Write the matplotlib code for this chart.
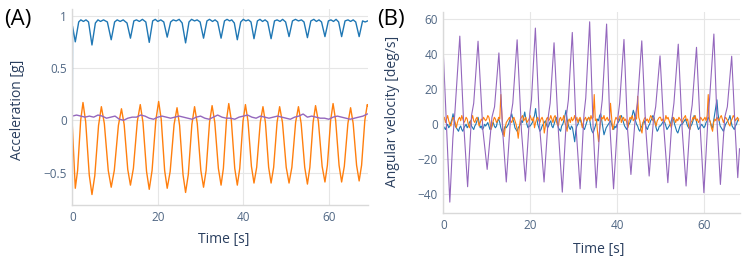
import numpy as np
import matplotlib
matplotlib.use("Agg")
import matplotlib.pyplot as plt

plt.rcParams['font.family'] = ['Open Sans', 'DejaVu Sans']

# (A) acceleration [g]
acc_blue_t = [0, 0.05, 0.7, 1.5, 2.0, 2.6, 3.2, 3.8, 4.6, 5.4, 6.0, 6.6, 7.3, 8.2,
              9.1, 9.9, 10.5, 11.2, 11.9, 12.8, 13.6, 14.4, 15.0, 15.7, 16.4, 17.2,
              18.0, 18.8, 19.4, 20.0, 20.7, 21.4, 22.2, 23.0, 23.6, 24.3, 25.0, 25.7,
              26.5, 27.3, 27.9, 28.6, 29.2, 29.9, 30.7, 31.5, 32.1, 32.8, 33.4, 34.0,
              34.8, 35.6, 36.2, 36.8, 37.3, 37.9, 38.6, 39.4, 40.0, 40.6, 41.2, 41.8,
              42.5, 43.3, 43.9, 44.5, 45.1, 45.7, 46.5, 47.3, 47.9, 48.6, 49.2, 49.9,
              50.7, 51.5, 52.2, 52.9, 53.6, 54.2, 55.0, 55.8, 56.5, 57.1, 57.7, 58.3,
              59.1, 59.9, 60.5, 61.1, 61.7, 62.3, 63.0, 63.8, 64.5, 65.1, 65.7, 66.3,
              67.1, 67.9, 68.5, 69.1]
acc_blue = [0.03, 0.90, 0.75, 0.94, 0.96, 0.945, 0.96, 0.94, 0.72, 0.93, 0.96, 0.945, 0.96, 0.94,
            0.77, 0.94, 0.96, 0.945, 0.96, 0.93, 0.785, 0.95, 0.96, 0.945, 0.965, 0.94,
            0.745, 0.95, 0.965, 0.945, 0.96, 0.94, 0.795, 0.94, 0.96, 0.95, 0.965, 0.93,
            0.74, 0.94, 0.965, 0.95, 0.96, 0.94, 0.785, 0.95, 0.965, 0.945, 0.96, 0.94,
            0.785, 0.95, 0.965, 0.95, 0.96, 0.93, 0.77, 0.94, 0.965, 0.95, 0.96, 0.94,
            0.78, 0.95, 0.965, 0.945, 0.96, 0.94, 0.78, 0.95, 0.96, 0.945, 0.965, 0.94,
            0.80, 0.95, 0.965, 0.95, 0.96, 0.94, 0.79, 0.95, 0.965, 0.945, 0.96, 0.94,
            0.80, 0.95, 0.96, 0.945, 0.965, 0.94, 0.80, 0.95, 0.96, 0.945, 0.96, 0.94,
            0.80, 0.95, 0.94, 0.95]

acc_orange_t = [0, 0.7, 1.24, 1.96, 2.5, 3.13, 3.97, 4.6, 5.26, 6.14, 6.8, 7.49, 8.41,
                9.1, 9.82, 10.78, 11.5, 12.13, 12.97, 13.6, 14.29, 15.21, 15.9, 16.53, 17.37,
                18.0, 18.66, 19.54, 20.2, 20.8, 21.6, 22.2, 22.89, 23.81, 24.5, 25.1, 25.9,
                26.5, 27.13, 27.97, 28.6, 29.23, 30.07, 30.7, 31.3, 32.1, 32.7, 33.33, 34.17,
                34.8, 35.34, 36.06, 36.6, 37.2, 38.0, 38.6, 39.17, 39.93, 40.5, 41.1, 41.9,
                42.5, 43.13, 43.97, 44.6, 45.17, 45.93, 46.5, 47.1, 47.9, 48.5, 49.16, 50.04,
                50.7, 51.36, 52.24, 52.9, 53.53, 54.37, 55.0, 55.57, 56.33, 56.9, 57.56, 58.44,
                59.1, 59.67, 60.43, 61.0, 61.6, 62.4, 63.0, 63.63, 64.47, 65.1, 65.7, 66.5,
                67.1, 67.67, 68.43, 69.0, 69.1]
acc_orange = [-0.05, -0.65, -0.48, 0.0, 0.17, -0.015, -0.525, -0.71, -0.53, -0.05, 0.13, -0.03, -0.48,
              -0.64, -0.48, -0.05, 0.11, -0.04, -0.47, -0.62, -0.46, -0.01, 0.15, -0.02, -0.49,
              -0.66, -0.48, 0.0, 0.18, 0.01, -0.48, -0.65, -0.49, -0.04, 0.12, -0.05, -0.52,
              -0.69, -0.52, -0.04, 0.13, -0.03, -0.48, -0.64, -0.48, -0.02, 0.14, -0.02, -0.46,
              -0.62, -0.46, 0.0, 0.16, 0.0, -0.46, -0.62, -0.46, -0.01, 0.15, -0.01, -0.44,
              -0.60, -0.45, -0.02, 0.13, -0.02, -0.45, -0.60, -0.45, -0.02, 0.13, -0.02, -0.45,
              -0.60, -0.45, -0.02, 0.13, -0.03, -0.45, -0.61, -0.45, -0.02, 0.14, -0.01, -0.44,
              -0.59, -0.43, 0.0, 0.16, 0.0, -0.43, -0.59, -0.44, -0.03, 0.12, -0.03, -0.43,
              -0.58, -0.43, 0.0, 0.15, 0.14]

acc_purple_t = list(range(0, 70))
acc_purple = [0.04, 0.05, 0.04, 0.03, 0.04, 0.03, 0.05, 0.04, 0.02, 0.03,
              0.04, 0.01, 0.00, 0.02, 0.03, 0.03, 0.05, 0.04, 0.02, 0.01,
              0.03, 0.04, 0.03, 0.02, 0.03, 0.04, 0.03, 0.02, 0.01, 0.03,
              0.04, 0.02, 0.01, 0.03, 0.05, 0.03, 0.02, 0.02, 0.01, 0.03,
              0.04, 0.05, 0.03, 0.02, 0.04, 0.03, 0.02, 0.03, 0.04, 0.03,
              0.02, 0.01, 0.03, 0.04, 0.06, 0.03, 0.04, 0.03, 0.02, 0.02,
              0.01, 0.03, 0.04, 0.03, 0.02, 0.01, 0.02, 0.03, 0.04, 0.06]

# (B) angular velocity [deg/s], blue and orange sampled every 0.25 s
gyr_t = np.arange(0, 68.01, 0.25)
gyr_blue = [-1, -2, -3, -1, 0, -2, -1, 1, 3, 6, 2, -1, -2, -3, -4, -2, -1, -3, -4, -2,
            -1, 0, -2, -1, 1, 2, -1, -2, -3, -1, 0, 2, 4, 1, -2, -1, -3, -2, 0, -1,
            0, 1, -1, -3, -2, 0, 1, -1, -2, -1, 2, 3, 1, -2, -4, -6, -3, -1, -2, -1,
            0, 2, 4, 6, 3, 1, -2, -3, -4, -2, -1, 0, 2, 1, 4, 7, 3, 0, -2, -1,
            -1, 0, 1, 3, 5, 9, 4, 0, -2, -4, -3, -1, 0, 1, 2, 0, -2, -1, 1, 2,
            -1, -2, 0, 2, 4, 1, -2, -3, -4, -1, 0, 2, 5, 8, 3, 0, -2, -3, -1, -2,
            -6, -10, -4, -1, 0, 2, 3, 1, -1, -2, -3, -1, 1, 3, 4, 2, -2, -4, -5, -3,
            -1, 1, 3, 2, 5, 6, 2, -2, -6, -4, -2, -1, 0, 1, 2, 0, -2, -3, -1, -2,
            0, 1, 2, 4, 5, 3, 1, -1, -2, -3, -1, 0, 1, 3, 5, 8, 6, 2, 0, -1,
            -3, -4, -2, -1, 1, 2, 0, -2, -3, -1, 0, 2, 3, 5, 4, 1, -2, -4, -3, -1,
            -1, 0, 1, 2, 1, -1, -3, -2, -1, 0, 2, 4, 3, 0, -2, -4, -5, -3, -1, 0,
            0, 1, 2, 3, 1, -1, -2, -3, -1, 0, 2, 5, 4, 2, -1, -3, -2, -1, 0, -1,
            -2, -1, 1, 2, 4, 3, 1, -1, -2, 2, 6, 10, 14, 6, 2, -1, -2, -3, -4, -2,
            0, 1, 2, 3, 5, 2, -1, -2, -3, -1, 0, 2, 3]
gyr_orange = [2, 4, 1, 3, 5, 2, 0, -1, 2, 4, 3, 1, -2, 1, 3, 4, 2, 5, 3, 1,
              2, 4, 3, 0, -2, 1, 3, 5, 2, 1, 3, 4, 2, -1, 1, 3, 2, 4, 3, 2,
              3, 5, 4, 1, -3, -1, 2, 4, 3, 1, 2, 4, 3, 17, 5, -4, -7, -2, 1, 2,
              3, 4, 2, 1, 3, 4, 2, 0, -3, -8, -2, 3, 4, 5, 2, 3, 4, 1, 2, 3,
              5, 3, 2, 4, -2, 1, 3, 4, 2, 1, 3, 4, 2, -5, -1, 3, 4, 2, 3, 5,
              3, 1, 4, 5, 2, 0, -1, 3, 4, 2, 3, 5, 1, -1, -4, 2, 3, 1, 4, 2,
              3, 5, 2, 4, 1, 3, 4, 2, -2, 1, 3, 4, 2, 3, 4, 2, 5, 3, 4, 17,
              2, 3, -4, -10, -3, 2, 4, 3, 5, 2, 3, 4, 2, 3, 12, 4, -3, -1, 2, 4,
              3, 2, 4, 5, 1, 3, 4, 2, 3, 1, -2, 2, 4, 3, 5, 2, 3, 4, 3, 16,
              4, 2, -3, -5, 1, 3, 4, 2, 3, 1, 3, 5, 4, 2, 3, 1, -1, 2, 3, 4,
              4, 2, 3, 1, 2, 5, 3, 4, 2, 0, -2, 2, 4, 3, 1, 3, 2, 4, 3, 2,
              1, 3, 4, 5, 2, 3, -1, -3, 1, 2, 4, 3, 5, 2, 3, 1, 2, 4, 3, 2,
              3, 4, 2, 5, 17, 3, 1, -2, -4, 1, 3, 2, 4, 3, 2, 4, 5, 3, 1, 3,
              4, 3, 2, 0, -1, 2, 3, 5, 4, 2, 3, 4, 2]

gyr_purple_t = [0, 1.5, 2.2, 2.7, 3.8, 4.7, 5.6, 6.5, 7.0, 8.0, 9.1, 10.1, 11.2, 11.8,
                12.8, 13.7, 14.5, 15.5, 16.0, 17.0, 18.0, 18.9, 19.9, 20.3, 21.2, 22.2,
                23.2, 24.2, 24.6, 25.5, 26.5, 27.4, 28.4, 28.8, 29.7, 30.6, 31.5, 32.4,
                32.8, 33.7, 34.5, 35.2, 36.2, 36.6, 37.6, 38.4, 39.2, 40.2, 40.6, 41.6,
                42.4, 43.2, 44.2, 44.7, 45.7, 46.6, 47.4, 48.4, 48.9, 49.9, 50.8, 51.7,
                52.7, 53.1, 54.1, 55.0, 55.9, 56.9, 57.3, 58.3, 59.2, 60.0, 61.0, 61.3,
                62.3, 63.1, 63.8, 64.8, 65.4, 66.4, 67.2, 67.8, 68.2]
gyr_purple = [41, -44.5, -8, 8, 50.4, 0, -35.7, 5, 12, 47.5, -3, -25.8, 4, 10,
              40.8, -5, -33, 4, 12, 48.3, -4, -32.5, 6, 14, 55, -2,
              -33, 5, 12, 46.6, -4, -38.8, 6, 14, 52.5, -3, -36.9, 6,
              15, 58.6, -2, -36.3, 5, 14, 57.3, -3, -36.9, 4, 12, 48.5,
              -2, -28.7, 4, 12, 47.7, -2, -29.6, 3, 10, 39.1, -3, -33.4,
              4, 12, 45.8, -3, -35.3, 4, 11, 44, -4, -39.1, 6, 14,
              51.6, -3, -34.4, 4, 10, 38.9, -3, -30.5, -14]

acc_ticks = [-0.5, 0, 0.5, 1]
acc_ticklabels = ['\u22120.5', '0', '0.5', '1']
gyr_ticks = [-40, -20, 0, 20, 40, 60]
gyr_ticklabels = ['\u221240', '\u221220', '0', '20', '40', '60']
time_ticks = [0, 20, 40, 60]

BLUE, ORANGE, PURPLE = '#1f77b4', '#ff7f0e', '#9467bd'
TICK_C = '#506784'
TITLE_C = '#2a3f5f'

W, H = 748, 261
fig = plt.figure(figsize=(W / 100, H / 100), dpi=100)


def box(l, t, r, b):
    return [l / W, 1 - b / H, (r - l) / W, (b - t) / H]


def style(ax):
    ax.set_facecolor('white')
    for s in ['top', 'right']:
        ax.spines[s].set_visible(False)
    for s in ['left', 'bottom']:
        ax.spines[s].set_color('#d9d9d9')
        ax.spines[s].set_linewidth(1.0)
    ax.grid(True, color='#e6e6e6', linewidth=0.8)
    ax.set_axisbelow(True)
    ax.tick_params(length=0, labelcolor=TICK_C, labelsize=8.5, pad=4)


axA = fig.add_axes(box(72.3, 9, 367.7, 205))
style(axA)
axA.plot(acc_blue_t, acc_blue, color=BLUE, lw=1.0)
axA.plot(acc_orange_t, acc_orange, color=ORANGE, lw=1.0)
axA.plot(acc_purple_t, acc_purple, color=PURPLE, lw=1.0)
axA.set_xlim(0, 69.1)
axA.set_ylim(-0.81, 1.064)
axA.set_yticks(acc_ticks)
axA.set_yticklabels(acc_ticklabels)
axA.set_xticks(time_ticks)

axB = fig.add_axes(box(443.3, 12, 739.5, 213.3))
style(axB)
axB.plot(gyr_t, gyr_blue, color=BLUE, lw=0.8)
axB.plot(gyr_t, gyr_orange, color=ORANGE, lw=0.8)
axB.plot(gyr_purple_t, gyr_purple, color=PURPLE, lw=0.8)
axB.set_xlim(0, 68.2)
axB.set_ylim(-50.9, 64.2)
axB.set_yticks(gyr_ticks)
axB.set_yticklabels(gyr_ticklabels)
axB.set_xticks(time_ticks)

# axis titles and panel letters
fig.text(17.5 / W, 1 - 110 / H, 'Acceleration [g]', rotation=90, ha='center', va='center',
         color=TITLE_C, fontsize=10)
fig.text(224 / W, 1 - 240 / H, 'Time [s]', ha='center', va='center', color=TITLE_C, fontsize=10)
fig.text(392 / W, 1 - 111 / H, 'Angular velocity [deg/s]', rotation=90, ha='center', va='center',
         color=TITLE_C, fontsize=10)
fig.text(599 / W, 1 - 249 / H, 'Time [s]', ha='center', va='center', color=TITLE_C, fontsize=10)
fig.text(18 / W, 1 - 19 / H, '(A)', ha='center', va='center', color='black', fontsize=16)
fig.text(391 / W, 1 - 20 / H, '(B)', ha='center', va='center', color='black', fontsize=16)

fig.savefig('out.png', dpi=100, facecolor='white')
